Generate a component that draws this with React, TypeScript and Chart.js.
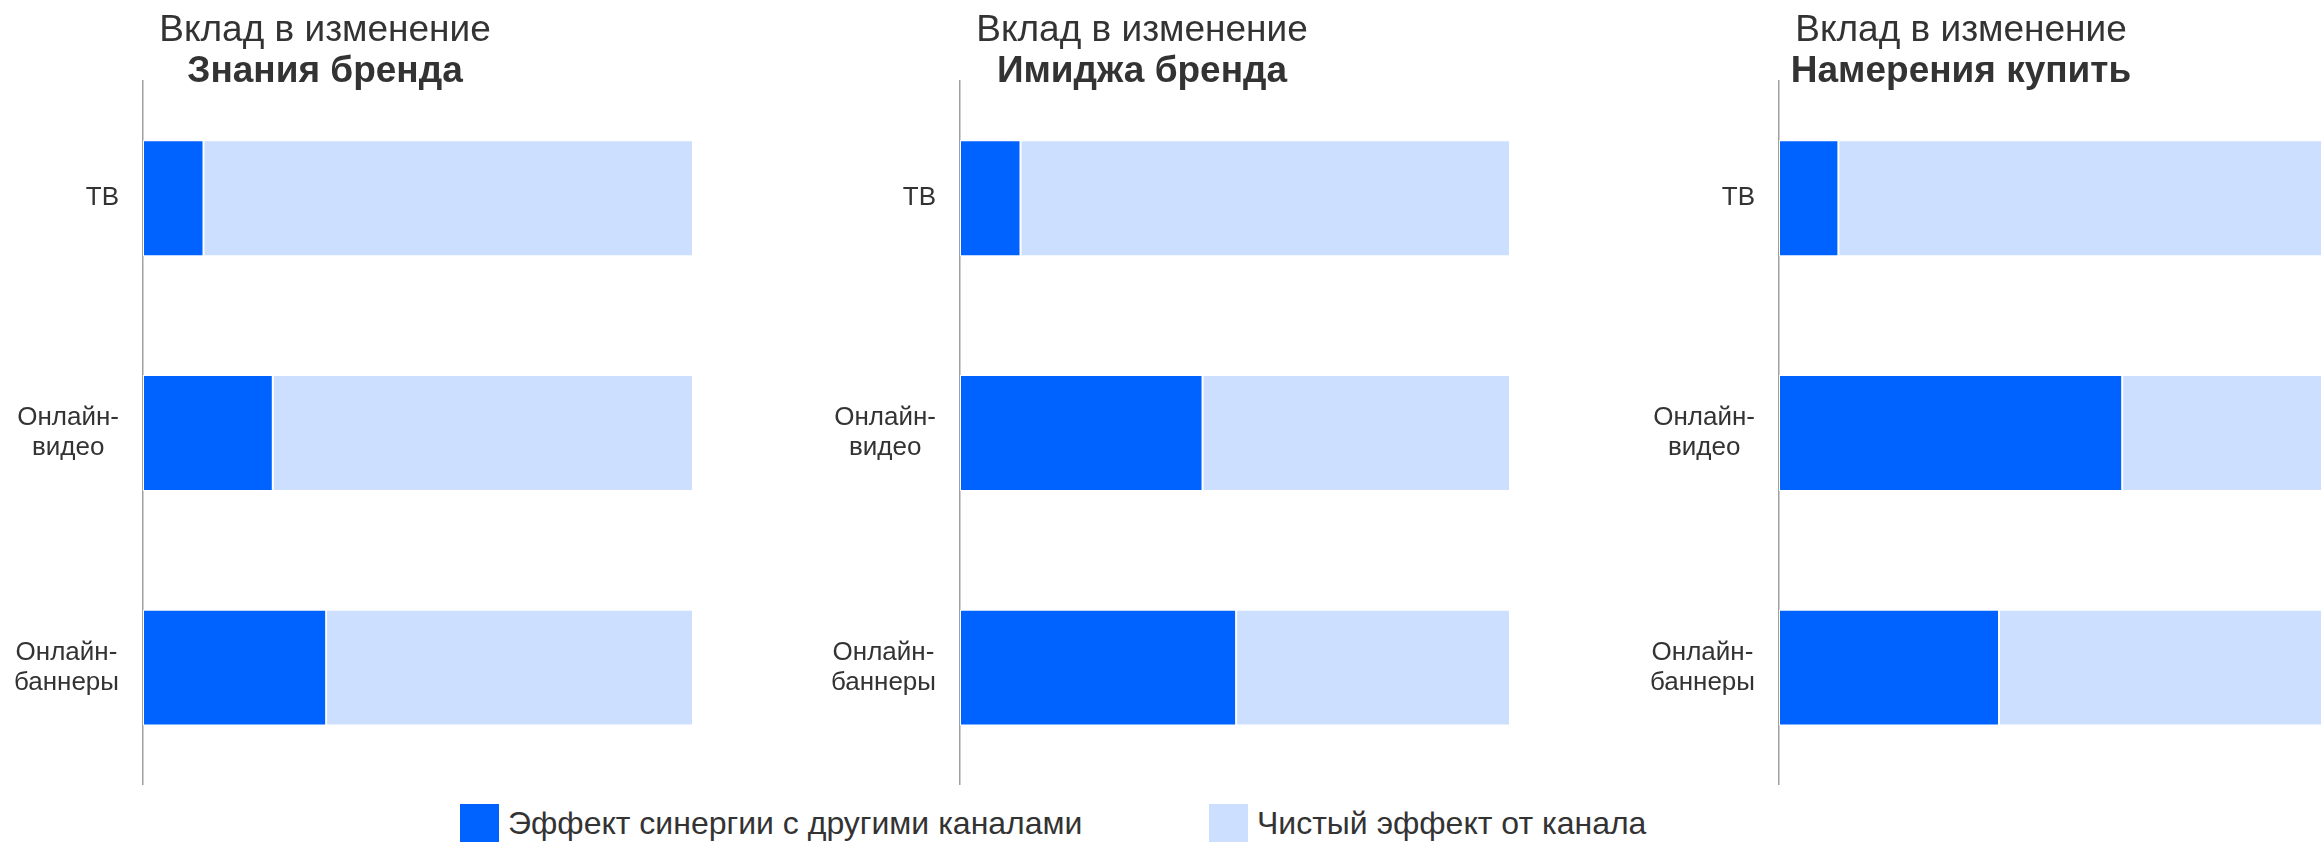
import React, { useEffect, useRef } from "react";
import { Chart, registerables } from "chart.js";

Chart.register(...registerables);

// ---------- data ----------
const categories: string[][] = [["ТВ"], ["Онлайн-", "видео"], ["Онлайн-", "баннеры"]];
const titleTop = "Вклад в изменение";
const chartTitles = ["Знания бренда", "Имиджа бренда", "Намерения купить"];
const seriesLabels = ["Эффект синергии с другими каналами", "Чистый эффект от канала"];

const synergyAwareness = [11, 23.6, 33.3];
const pureAwareness = [89, 76.4, 66.7];
const synergyImage = [11, 44.1, 50.2];
const pureImage = [89, 55.9, 49.8];
const synergyIntent = [10.8, 62.4, 40];
const pureIntent = [89.2, 37.6, 60];

const synergySeries = [synergyAwareness, synergyImage, synergyIntent];
const pureSeries = [pureAwareness, pureImage, pureIntent];

// ---------- style ----------
const DARK = "#0062FF";
const LIGHT = "#CCDFFE";
const TEXT = "#333333";
const FONT = '"Liberation Sans", Arial, sans-serif';
const CANVAS_W = 736;
const CANVAS_H = 785;
const AXIS_W = 186;
const chartLefts = [-43, 774, 1593];

const yLabelPlugin = {
  id: "yLabels",
  afterDraw(chart: any) {
    const ctx = chart.ctx;
    const yScale = chart.scales.y;
    const area = chart.chartArea;
    ctx.save();
    ctx.font = `26px ${FONT}`;
    ctx.fillStyle = TEXT;
    ctx.textAlign = "center";
    ctx.textBaseline = "middle";
    const lineH = 30;
    (chart.data.labels as string[][]).forEach((lines, i) => {
      const y = yScale.getPixelForTick(i);
      const w = Math.max(...lines.map((l) => ctx.measureText(l).width));
      const cx = area.left - 24 - w / 2;
      lines.forEach((l, j) => {
        ctx.fillText(l, cx, y + (j - (lines.length - 1) / 2) * lineH);
      });
    });
    ctx.restore();
  },
};

function BarPanel({ index }: { index: number }) {
  const ref = useRef<HTMLCanvasElement>(null);
  useEffect(() => {
    if (!ref.current) return;
    const chart = new Chart(ref.current, {
      type: "bar",
      data: {
        labels: categories,
        datasets: [
          {
            label: seriesLabels[0],
            data: synergySeries[index],
            backgroundColor: DARK,
            borderColor: "#ffffff",
            borderWidth: 1,
            borderSkipped: false,
          },
          {
            label: seriesLabels[1],
            data: pureSeries[index],
            backgroundColor: LIGHT,
            borderColor: "#ffffff",
            borderWidth: 1,
            borderSkipped: false,
          },
        ],
      },
      options: {
        indexAxis: "y",
        responsive: false,
        animation: false,
        layout: { padding: 0 },
        datasets: { bar: { categoryPercentage: 1, barPercentage: 0.494 } },
        scales: {
          x: { stacked: true, min: 0, max: 100, display: false },
          y: {
            stacked: true,
            grid: { display: false },
            border: { display: true, color: "#a0a0a0", width: 1.5 },
            ticks: { display: false },
            afterFit: (s: any) => {
              s.width = AXIS_W;
            },
          },
        },
        plugins: {
          legend: { display: false },
          tooltip: { enabled: false },
          title: {
            display: true,
            text: titleTop,
            color: TEXT,
            font: { family: FONT, size: 37, weight: "normal", lineHeight: 1 },
            padding: { top: 12.5, bottom: 0 },
          },
          subtitle: {
            display: true,
            text: chartTitles[index],
            color: TEXT,
            font: { family: FONT, size: 37, weight: "bold", lineHeight: 0.48 },
            padding: { top: 13.6, bottom: 0 },
          },
        },
      },
      plugins: [yLabelPlugin],
    } as any);
    return () => chart.destroy();
  }, [index]);
  return (
    <canvas
      ref={ref}
      width={CANVAS_W}
      height={CANVAS_H}
      style={{ position: "absolute", left: chartLefts[index], top: 0, width: CANVAS_W, height: CANVAS_H }}
    />
  );
}

const legendColors = [DARK, LIGHT];
const legendLefts = [460, 1209];

export default function App() {
  return (
    <div
      style={{
        position: "absolute",
        left: 0,
        top: 0,
        width: 2321,
        height: 842,
        overflow: "hidden",
        background: "#ffffff",
      }}
    >
      {chartTitles.map((_, i) => (
        <BarPanel key={i} index={i} />
      ))}
      {seriesLabels.map((label, i) => (
        <div
          key={label}
          style={{
            position: "absolute",
            left: legendLefts[i],
            top: 804,
            display: "flex",
            alignItems: "center",
            whiteSpace: "nowrap",
          }}
        >
          <span style={{ display: "inline-block", width: 39, height: 39, background: legendColors[i] }} />
          <span style={{ marginLeft: 9, fontFamily: FONT, fontSize: 32, color: TEXT, lineHeight: "39px" }}>
            {label}
          </span>
        </div>
      ))}
    </div>
  );
}
